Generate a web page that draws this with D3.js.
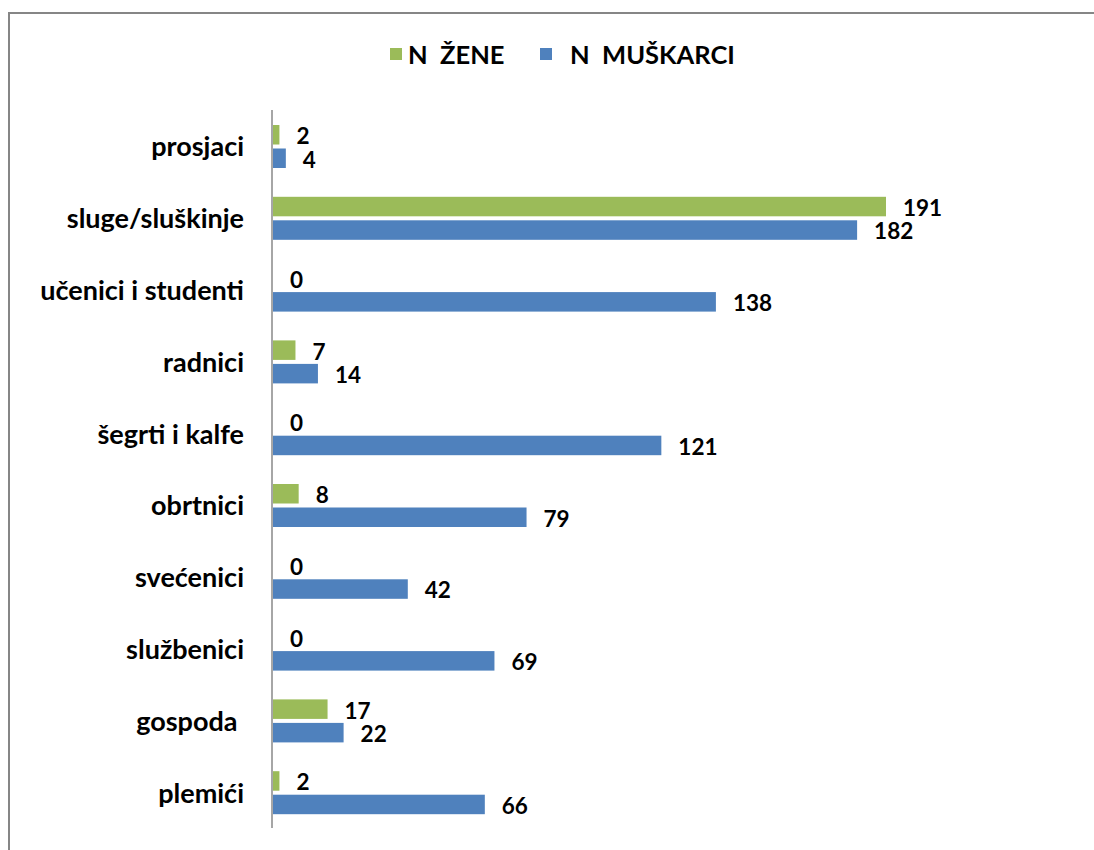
<!DOCTYPE html>
<html>
<head>
<meta charset="utf-8">
<script src="https://cdn.jsdelivr.net/npm/d3@7"></script>
<style>
  body { margin: 0; background: #fff; }
  svg { display: block; font-family: Lato, "Open Sans", sans-serif; font-weight: bold; }
</style>
</head>
<body>
<svg id="chart" width="1094" height="850"></svg>
<script>
const categories = ["prosjaci", "sluge/sluškinje", "učenici i studenti", "radnici", "šegrti i kalfe",
    "obrtnici", "svećenici", "službenici", "gospoda\u00a0", "plemići"];
const zene = [2, 191, 0, 7, 0, 8, 0, 0, 17, 2];
const muskarci = [4, 182, 138, 14, 121, 79, 42, 69, 22, 66];
const seriesNames = ["N  ŽENE", "N  MUŠKARCI"];
const seriesColors = ["#9BBB59", "#4F81BD"];

const svg = d3.select("#chart");

// outer frame
svg.append("rect")
    .attr("x", 9).attr("y", 13)
    .attr("width", 1100).attr("height", 850)
    .attr("fill", "none")
    .attr("stroke", "#868686")
    .attr("stroke-width", 2);

const x = d3.scaleLinear().domain([0, 191]).range([273, 886]);
const y = d3.scaleBand().domain(categories).range([110, 828]);
const inner = d3.scaleBand().domain([0, 1]).range([15, 58]).paddingInner(0.17);

const rows = categories.map((c, i) => ({ cat: c, vals: [zene[i], muskarci[i]] }));

const g = svg.append("g");

const row = g.selectAll("g.row")
    .data(rows)
    .enter().append("g")
    .attr("class", "row")
    .attr("transform", d => `translate(0,${y(d.cat)})`);

row.selectAll("rect")
    .data(d => d.vals)
    .enter().append("rect")
    .attr("x", x(0))
    .attr("y", (v, i) => inner(i))
    .attr("width", v => x(v) - x(0))
    .attr("height", inner.bandwidth())
    .attr("fill", (v, i) => seriesColors[i]);

row.selectAll("text.val")
    .data(d => d.vals)
    .enter().append("text")
    .attr("class", "val")
    .attr("x", v => x(v) + 17)
    .attr("y", (v, i) => inner(i) + inner.bandwidth() / 2 + 1.5)
    .attr("dy", "0.35em")
    .attr("font-size", 22.5)
    .attr("fill", "#000")
    .text(v => v);

// category labels
row.append("text")
    .attr("x", 244)
    .attr("y", y.bandwidth() / 2 + 1)
    .attr("dy", "0.35em")
    .attr("text-anchor", "end")
    .attr("font-size", 27)
    .attr("fill", "#000")
    .style("white-space", "pre")
    .text(d => d.cat);

// axis line
g.append("line")
    .attr("x1", x(0) - 1).attr("x2", x(0) - 1)
    .attr("y1", 110).attr("y2", 828)
    .attr("stroke", "#888")
    .attr("stroke-width", 1.5);

// legend
const legend = svg.append("g");
const legendX = [390, 540];
seriesNames.forEach((name, i) => {
    legend.append("rect")
        .attr("x", legendX[i]).attr("y", 48)
        .attr("width", 12).attr("height", 12)
        .attr("fill", seriesColors[i]);
    legend.append("text")
        .attr("x", legendX[i] + (i === 0 ? 18 : 30))
        .attr("y", 55)
        .attr("dy", "0.35em")
        .attr("font-size", 25.5)
        .style("white-space", "pre")
        .text(name);
});
</script>
</body>
</html>
